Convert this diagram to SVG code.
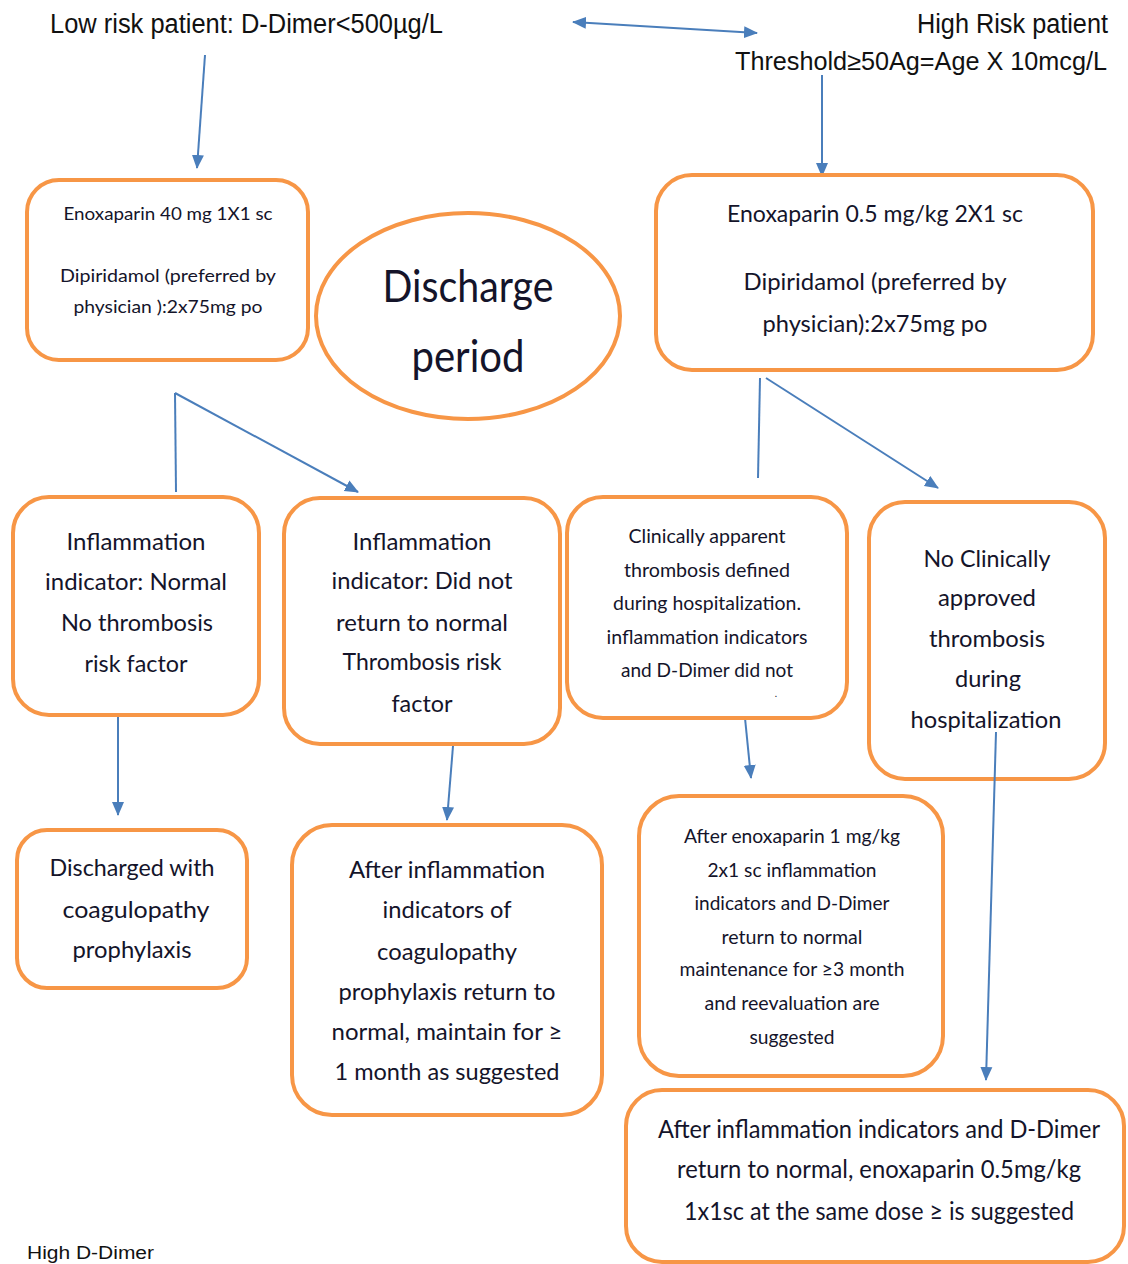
<svg xmlns="http://www.w3.org/2000/svg" width="1128" height="1264" viewBox="0 0 1128 1264">
<style>
.box{fill:#fff;stroke:#F79646;stroke-width:4}
.t{font-family:Lato,"Open Sans","Liberation Sans",sans-serif;fill:#14142a;text-anchor:middle}
.h{font-family:"Liberation Sans",Arial,sans-serif;fill:#111}
.c{stroke:#4A7EBB;stroke-width:2;fill:none}
</style>
<defs>
<marker id="ah" markerUnits="userSpaceOnUse" markerWidth="14" markerHeight="14" viewBox="0 0 14 14" refX="13" refY="7" orient="auto-start-reverse">
<path d="M0,1 L14,7 L0,13 Z" fill="#4A7EBB"/>
</marker>
</defs>
<rect width="1128" height="1264" fill="#fff"/>

<g id="header-low">
<text class="h" x="50" y="33" font-size="27" textLength="393" lengthAdjust="spacingAndGlyphs">Low risk patient: D-Dimer&lt;500µg/L</text>
</g>
<g id="header-high">
<text class="h" x="917" y="33" font-size="27" textLength="191" lengthAdjust="spacingAndGlyphs">High Risk patient</text>
<text class="h" x="735" y="70" font-size="25" textLength="372" lengthAdjust="spacingAndGlyphs">Threshold≥50Ag=Age X 10mcg/L</text>
</g>

<g id="connectors">
<line class="c" x1="573" y1="22" x2="757" y2="33" marker-start="url(#ah)" marker-end="url(#ah)"/>
<line class="c" x1="205" y1="55" x2="197" y2="168" marker-end="url(#ah)"/>
<line class="c" x1="822" y1="75" x2="822" y2="176" marker-end="url(#ah)"/>
<line class="c" x1="175" y1="393" x2="176" y2="492" stroke-width="1.5"/>
<line class="c" x1="175" y1="393" x2="358" y2="492" marker-end="url(#ah)"/>
<line class="c" x1="760" y1="378" x2="758" y2="478" stroke-width="1.5"/>
<line class="c" x1="766" y1="378" x2="938" y2="488" marker-end="url(#ah)"/>
<line class="c" x1="118" y1="712" x2="118" y2="815" marker-end="url(#ah)"/>
<line class="c" x1="453" y1="746" x2="447" y2="820" marker-end="url(#ah)"/>
<line class="c" x1="745" y1="718" x2="751" y2="778" marker-end="url(#ah)"/>
</g>

<g id="box-low">
<rect class="box" x="27" y="180" width="281" height="180" rx="32"/>
<text class="t" x="168" y="220" font-size="18" textLength="209" lengthAdjust="spacingAndGlyphs">Enoxaparin 40 mg 1X1 sc</text>
<text class="t" x="168" y="282" font-size="18" textLength="216" lengthAdjust="spacingAndGlyphs">Dipiridamol (preferred by</text>
<text class="t" x="168" y="313" font-size="18" textLength="189" lengthAdjust="spacingAndGlyphs">physician ):2x75mg po</text>
</g>

<g id="discharge">
<ellipse class="box" cx="468" cy="316" rx="152" ry="103"/>
<text class="t" x="468" y="302" font-size="44" textLength="171" lengthAdjust="spacingAndGlyphs">Discharge</text>
<text class="t" x="468" y="372" font-size="44" textLength="113" lengthAdjust="spacingAndGlyphs">period</text>
</g>

<g id="box-high">
<rect class="box" x="656" y="175" width="437" height="195" rx="36"/>
<text class="t" x="875" y="222" font-size="24" textLength="296" lengthAdjust="spacingAndGlyphs">Enoxaparin 0.5 mg/kg 2X1 sc</text>
<text class="t" x="875" y="290" font-size="24" textLength="263" lengthAdjust="spacingAndGlyphs">Dipiridamol (preferred by</text>
<text class="t" x="875" y="332" font-size="24" textLength="225" lengthAdjust="spacingAndGlyphs">physician):2x75mg po</text>
</g>

<g id="box-a">
<rect class="box" x="13" y="497" width="246" height="218" rx="36"/>
<text class="t" x="136" y="550" font-size="24" textLength="139" lengthAdjust="spacingAndGlyphs">Inflammation</text>
<text class="t" x="136" y="590" font-size="24" textLength="182" lengthAdjust="spacingAndGlyphs">indicator: Normal</text>
<text class="t" x="137" y="631" font-size="24" textLength="152" lengthAdjust="spacingAndGlyphs">No thrombosis</text>
<text class="t" x="136" y="672" font-size="24" textLength="103" lengthAdjust="spacingAndGlyphs">risk factor</text>
</g>

<g id="box-b">
<rect class="box" x="284" y="498" width="276" height="246" rx="36"/>
<text class="t" x="422" y="550" font-size="24" textLength="139" lengthAdjust="spacingAndGlyphs">Inflammation</text>
<text class="t" x="422" y="589" font-size="24" textLength="181" lengthAdjust="spacingAndGlyphs">indicator: Did not</text>
<text class="t" x="422" y="631" font-size="24" textLength="172" lengthAdjust="spacingAndGlyphs">return to normal</text>
<text class="t" x="422" y="670" font-size="24" textLength="159" lengthAdjust="spacingAndGlyphs">Thrombosis risk</text>
<text class="t" x="422" y="712" font-size="24" textLength="61" lengthAdjust="spacingAndGlyphs">factor</text>
</g>

<g id="box-c">
<rect class="box" x="567" y="497" width="280" height="221" rx="36"/>
<text class="t" x="707" y="543" font-size="19" textLength="157" lengthAdjust="spacingAndGlyphs">Clinically apparent</text>
<text class="t" x="707" y="577" font-size="19" textLength="166" lengthAdjust="spacingAndGlyphs">thrombosis defined</text>
<text class="t" x="707" y="610" font-size="19" textLength="188" lengthAdjust="spacingAndGlyphs">during hospitalization.</text>
<text class="t" x="707" y="644" font-size="19" textLength="201" lengthAdjust="spacingAndGlyphs">inflammation indicators</text>
<text class="t" x="707" y="677" font-size="19" textLength="172" lengthAdjust="spacingAndGlyphs">and D-Dimer did not</text>
<text class="t" x="776" y="697" font-size="10">.</text>
</g>

<g id="box-d">
<rect class="box" x="869" y="502" width="236" height="277" rx="36"/>
<text class="t" x="987" y="567" font-size="24" textLength="127" lengthAdjust="spacingAndGlyphs">No Clinically</text>
<text class="t" x="987" y="606" font-size="24" textLength="98" lengthAdjust="spacingAndGlyphs">approved</text>
<text class="t" x="987" y="647" font-size="24" textLength="116" lengthAdjust="spacingAndGlyphs">thrombosis</text>
<text class="t" x="988" y="687" font-size="24" textLength="66" lengthAdjust="spacingAndGlyphs">during</text>
<text class="t" x="986" y="728" font-size="24" textLength="151" lengthAdjust="spacingAndGlyphs">hospitalization</text>
</g>

<g id="box-e">
<rect class="box" x="17" y="830" width="230" height="158" rx="30"/>
<text class="t" x="132" y="876" font-size="24" textLength="165" lengthAdjust="spacingAndGlyphs">Discharged with</text>
<text class="t" x="136" y="918" font-size="24" textLength="147" lengthAdjust="spacingAndGlyphs">coagulopathy</text>
<text class="t" x="132" y="958" font-size="24" textLength="119" lengthAdjust="spacingAndGlyphs">prophylaxis</text>
</g>

<g id="box-f">
<rect class="box" x="292" y="825" width="310" height="290" rx="40"/>
<text class="t" x="447" y="878" font-size="24" textLength="196" lengthAdjust="spacingAndGlyphs">After inflammation</text>
<text class="t" x="447" y="918" font-size="24" textLength="129" lengthAdjust="spacingAndGlyphs">indicators of</text>
<text class="t" x="447" y="960" font-size="24" textLength="140" lengthAdjust="spacingAndGlyphs">coagulopathy</text>
<text class="t" x="447" y="1000" font-size="24" textLength="217" lengthAdjust="spacingAndGlyphs">prophylaxis return to</text>
<text class="t" x="447" y="1040" font-size="24" textLength="231" lengthAdjust="spacingAndGlyphs">normal, maintain for ≥</text>
<text class="t" x="447" y="1080" font-size="24" textLength="225" lengthAdjust="spacingAndGlyphs">1 month as suggested</text>
</g>

<g id="box-g">
<rect class="box" x="639" y="796" width="304" height="280" rx="40"/>
<text class="t" x="792" y="843" font-size="19" textLength="216" lengthAdjust="spacingAndGlyphs">After enoxaparin 1 mg/kg</text>
<text class="t" x="792" y="877" font-size="19" textLength="169" lengthAdjust="spacingAndGlyphs">2x1 sc inflammation</text>
<text class="t" x="792" y="910" font-size="19" textLength="195" lengthAdjust="spacingAndGlyphs">indicators and D-Dimer</text>
<text class="t" x="792" y="944" font-size="19" textLength="141" lengthAdjust="spacingAndGlyphs">return to normal</text>
<text class="t" x="792" y="976" font-size="19" textLength="225" lengthAdjust="spacingAndGlyphs">maintenance for ≥3 month</text>
<text class="t" x="792" y="1010" font-size="19" textLength="175" lengthAdjust="spacingAndGlyphs">and reevaluation are</text>
<text class="t" x="792" y="1044" font-size="19" textLength="85" lengthAdjust="spacingAndGlyphs">suggested</text>
</g>

<g id="box-h">
<rect class="box" x="626" y="1090" width="498" height="172" rx="36"/>
<text class="t" x="879" y="1138" font-size="25" textLength="442" lengthAdjust="spacingAndGlyphs">After inflammation indicators and D-Dimer</text>
<text class="t" x="879" y="1178" font-size="25" textLength="404" lengthAdjust="spacingAndGlyphs">return to normal, enoxaparin 0.5mg/kg</text>
<text class="t" x="879" y="1220" font-size="25" textLength="390" lengthAdjust="spacingAndGlyphs">1x1sc at the same dose ≥ is suggested</text>
</g>

<g id="connector-overlay">
<line class="c" x1="996" y1="732" x2="986" y2="1080" marker-end="url(#ah)"/>
</g>

<g id="footnote">
<text class="h" x="27" y="1259" font-size="18" textLength="127" lengthAdjust="spacingAndGlyphs">High D-Dimer</text>
</g>
</svg>
